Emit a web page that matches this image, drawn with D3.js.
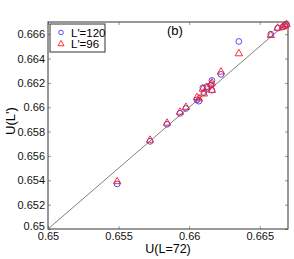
<!DOCTYPE html>
<html>
<head>
<meta charset="utf-8">
<script src="https://cdn.jsdelivr.net/npm/d3@7"></script>
<style>
  body { margin: 0; background: #fff; }
  svg { font-family: "Liberation Sans", Arial, sans-serif; }
</style>
</head>
<body>
<div id="chart"></div>
<script>
// U(L=72) on x, U(L') on y
const uRef = [0.6549, 0.65723, 0.65843, 0.65935, 0.65977, 0.66055, 0.66069, 0.66104, 0.66097, 0.66126,
              0.66161, 0.66154, 0.66161, 0.66225, 0.66352, 0.66578, 0.66627, 0.66663, 0.66677, 0.6669];
const u120 = [0.6537, 0.6572, 0.6586, 0.6595, 0.6599, 0.6606, 0.6605, 0.6612, 0.6616, 0.6617,
              0.6622, 0.6618, 0.6614, 0.6627, 0.6654, 0.6660, 0.6665, 0.6666, 0.6667, 0.6668];
const u96  = [0.6539, 0.6573, 0.6587, 0.6596, 0.6600, 0.6608, 0.6607, 0.6611, 0.6615, 0.6616,
              0.6620, 0.6619, 0.6614, 0.6629, 0.6644, 0.6659, 0.6665, 0.6666, 0.6667, 0.6668];
const xTicks = [0.65, 0.655, 0.66, 0.665];
const yTicks = [0.65, 0.652, 0.654, 0.656, 0.658, 0.66, 0.662, 0.664, 0.666];
const domain = [0.65, 0.667];

const margin = {left: 48, right: 6, top: 22, bottom: 30};
const W = 294, H = 259;
const width = W - margin.left - margin.right;
const height = H - margin.top - margin.bottom;

const svg = d3.select('#chart').append('svg')
    .attr('width', W)
    .attr('height', H);

const g = svg.append('g')
    .attr('transform', `translate(${margin.left}, ${margin.top})`);

const xScale = d3.scaleLinear().domain(domain).range([0, width]);
const yScale = d3.scaleLinear().domain(domain).range([height, 0]);

const fmt = d => d3.format('')(+d.toFixed(3));

// axes, matlab style: inward ticks on all four sides
const tickLen = 3;
g.append('g')
    .attr('transform', `translate(0, ${height})`)
    .call(d3.axisBottom(xScale).tickValues(xTicks).tickSize(-tickLen).tickPadding(3).tickFormat(fmt))
    .call(a => a.select('.domain').remove());
g.append('g')
    .call(d3.axisTop(xScale).tickValues(xTicks).tickSize(-tickLen).tickFormat(''))
    .call(a => a.select('.domain').remove());
const yAxis = g.append('g')
    .call(d3.axisLeft(yScale).tickValues(yTicks).tickSize(-tickLen).tickPadding(3).tickFormat(fmt))
    .call(a => a.select('.domain').remove());
g.append('g')
    .attr('transform', `translate(${width}, 0)`)
    .call(d3.axisRight(yScale).tickValues(yTicks).tickSize(-tickLen).tickFormat(''))
    .call(a => a.select('.domain').remove());

g.selectAll('.tick text')
    .style('font-size', '11px')
    .style('fill', '#111');
g.selectAll('.tick line').style('stroke', '#999');

// the corner label sits a touch higher so it does not collide with the x one
yAxis.selectAll('.tick text')
    .filter(d => d === domain[0])
    .attr('dy', '0.05em');

g.append('rect')
    .attr('width', width)
    .attr('height', height)
    .style('fill', 'none')
    .style('stroke', '#333')
    .style('stroke-width', 1);

// y = x reference line
g.append('line')
    .attr('x1', xScale(domain[0])).attr('y1', yScale(domain[0]))
    .attr('x2', xScale(domain[1])).attr('y2', yScale(domain[1]))
    .style('stroke', '#808080')
    .style('stroke-width', 1);

const blue = '#3a3aff';
const red = '#ff1a1a';

g.selectAll('.c120')
    .data(uRef)
    .enter()
    .append('circle')
    .attr('cx', d => xScale(d))
    .attr('cy', (d, i) => yScale(u120[i]))
    .attr('r', 2.9)
    .style('fill', 'none')
    .style('stroke', blue)
    .style('stroke-width', 0.9);

const tri = d3.symbol().type(d3.symbolTriangle).size(24);
g.selectAll('.t96')
    .data(uRef)
    .enter()
    .append('path')
    .attr('d', tri)
    .attr('transform', (d, i) => `translate(${xScale(d)}, ${yScale(u96[i])})`)
    .style('fill', 'none')
    .style('stroke', red)
    .style('stroke-width', 0.9);

// panel tag
g.append('text')
    .attr('x', 119)
    .attr('y', 13)
    .style('font-size', '13px')
    .text('(b)');

// legend
const leg = g.append('g').attr('transform', 'translate(2, 2)');
leg.append('rect')
    .attr('width', 55)
    .attr('height', 28)
    .style('fill', '#fff')
    .style('stroke', '#333')
    .style('stroke-width', 1);
leg.append('circle')
    .attr('cx', 11).attr('cy', 8.5).attr('r', 2.3)
    .style('fill', 'none').style('stroke', blue).style('stroke-width', 0.9);
leg.append('path')
    .attr('d', d3.symbol().type(d3.symbolTriangle).size(16))
    .attr('transform', 'translate(11, 20)')
    .style('fill', 'none').style('stroke', red).style('stroke-width', 0.9);
leg.append('text').attr('x', 21).attr('y', 12.5).style('font-size', '11.5px').text("L'=120");
leg.append('text').attr('x', 21).attr('y', 24).style('font-size', '11.5px').text("L'=96");

// axis titles
svg.append('text')
    .attr('x', margin.left + width / 2)
    .attr('y', 253)
    .attr('text-anchor', 'middle')
    .style('font-size', '12.5px')
    .text('U(L=72)');
svg.append('text')
    .attr('transform', `translate(15, 121) rotate(-90)`)
    .attr('text-anchor', 'middle')
    .style('font-size', '13px')
    .text("U(L')");
</script>
</body>
</html>
